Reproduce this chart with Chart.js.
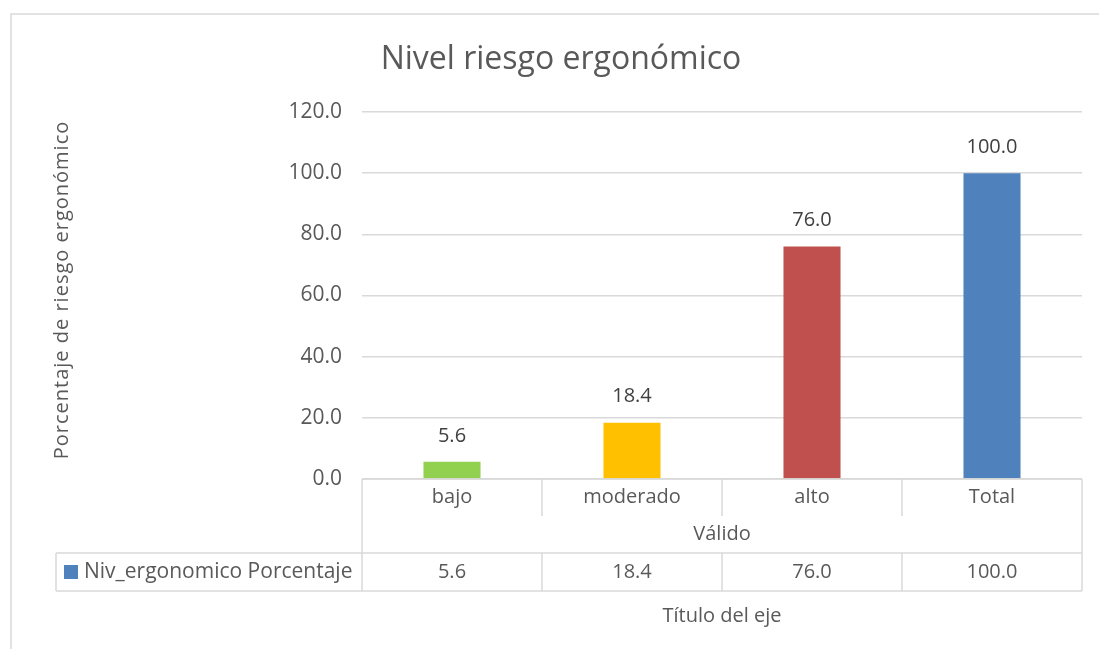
<!DOCTYPE html>
<html>
<head>
<meta charset="utf-8">
<script src="https://cdn.jsdelivr.net/npm/chart.js@4/dist/chart.umd.min.js"></script>
<style>
  html, body { margin: 0; padding: 0; background: #fff; }
  #wrap { width: 1099px; height: 649px; }
</style>
</head>
<body>
<div id="wrap"><canvas id="riskChart" width="1099" height="649"></canvas></div>
<script>
// Chart data
const chartTitle = 'Nivel riesgo ergonómico';
const yAxisTitle = 'Porcentaje de riesgo ergonómico';
const xAxisTitle = 'Título del eje';
const groupLabel = 'Válido';
const seriesLabel = 'Niv_ergonomico Porcentaje';
const categories = ['bajo', 'moderado', 'alto', 'Total'];
const percentValues = [5.6, 18.4, 76.0, 100.0];
const barColors = ['#92D050', '#FFC000', '#C0504D', '#4F81BD'];
const yTicks = [0, 20, 40, 60, 80, 100, 120];

const FONT = '"Open Sans", "Liberation Sans", sans-serif';
const TEXT = '#595959';
const LINE = '#d9d9d9';

// Draws title, axis titles, data labels and the data table under the axis
const tablePlugin = {
    id: 'tablePlugin',
    afterDraw(chart) {
        const ctx = chart.ctx;
        const area = chart.chartArea;
        const x = chart.scales.x;
        const meta = chart.getDatasetMeta(0);
        const step = (area.right - area.left) / categories.length;

        const row1 = area.bottom + 37;  // categories row bottom
        const row2 = row1 + 37;         // group row bottom
        const row3 = row2 + 38;         // data row bottom
        const legendLeft = 56;

        ctx.save();

        // outer chart frame
        ctx.strokeStyle = LINE;
        ctx.lineWidth = 1.5;
        ctx.strokeRect(11, 14, 1200, 700);

        // table lines
        ctx.beginPath();
        ctx.moveTo(area.left, area.bottom); ctx.lineTo(area.right, area.bottom);
        ctx.moveTo(legendLeft, row2); ctx.lineTo(area.right, row2);
        ctx.moveTo(legendLeft, row3); ctx.lineTo(area.right, row3);
        ctx.moveTo(legendLeft, row2); ctx.lineTo(legendLeft, row3);
        ctx.moveTo(area.left, area.bottom); ctx.lineTo(area.left, row3);
        ctx.moveTo(area.right, area.bottom); ctx.lineTo(area.right, row3);
        for (let i = 1; i < categories.length; i++) {
            const bx = area.left + step * i;
            ctx.moveTo(bx, area.bottom); ctx.lineTo(bx, row1);
            ctx.moveTo(bx, row2); ctx.lineTo(bx, row3);
        }
        ctx.stroke();

        ctx.fillStyle = TEXT;
        ctx.textAlign = 'center';
        ctx.textBaseline = 'middle';
        ctx.font = '20px ' + FONT;

        categories.forEach((c, i) => {
            const cx = x.getPixelForValue(i);
            ctx.fillText(c, cx, (area.bottom + row1) / 2);
            ctx.fillText(percentValues[i].toFixed(1), cx, (row2 + row3) / 2);
        });
        ctx.fillText(groupLabel, (area.left + area.right) / 2, (row1 + row2) / 2);

        // legend key in table
        ctx.fillStyle = barColors[3];
        ctx.fillRect(64, (row2 + row3) / 2 - 7, 14, 14);
        ctx.fillStyle = TEXT;
        ctx.textAlign = 'left';
        ctx.font = '21px ' + FONT;
        ctx.fillText(seriesLabel, 84, (row2 + row3) / 2);

        // data labels above bars
        ctx.font = '20px ' + FONT;
        ctx.textAlign = 'center';
        ctx.fillStyle = '#404040';
        meta.data.forEach((bar, i) => {
            ctx.fillText(percentValues[i].toFixed(1), bar.x, bar.y - 26);
        });

        // x axis title
        ctx.fillStyle = TEXT;
        ctx.fillText(xAxisTitle, (area.left + area.right) / 2, row3 + 25);

        // chart title
        ctx.font = '32px ' + FONT;
        ctx.fillText(chartTitle, 561, 60);

        // y axis title
        ctx.font = '20px ' + FONT;
        ctx.letterSpacing = '1px';
        ctx.translate(62, 290);
        ctx.rotate(-Math.PI / 2);
        ctx.fillText(yAxisTitle, 0, 0);

        ctx.restore();
    }
};

const riskChart = new Chart(document.getElementById('riskChart').getContext('2d'), {
    type: 'bar',
    data: {
        labels: categories,
        datasets: [{
            label: seriesLabel,
            data: percentValues,
            backgroundColor: barColors,
            borderWidth: 0,
            barPercentage: 0.317,
            categoryPercentage: 1
        }]
    },
    options: {
        responsive: false,
        animation: false,
        layout: { padding: { left: 0, top: 112, right: 17, bottom: 170 } },
        plugins: {
            legend: { display: false },
            title: { display: false },
            tooltip: { enabled: false }
        },
        scales: {
            x: { display: false },
            y: {
                min: 0,
                max: 120,
                afterFit: (s) => { s.width = 362; },
                afterBuildTicks: (s) => { s.ticks = yTicks.map(v => ({ value: v })); },
                ticks: {
                    padding: 20,
                    color: TEXT,
                    font: { family: FONT, size: 21 },
                    callback: (v) => Number(v).toFixed(1)
                },
                grid: { color: LINE, lineWidth: 1.5, drawTicks: false },
                border: { display: false }
            }
        }
    },
    plugins: [tablePlugin]
});
</script>
</body>
</html>
